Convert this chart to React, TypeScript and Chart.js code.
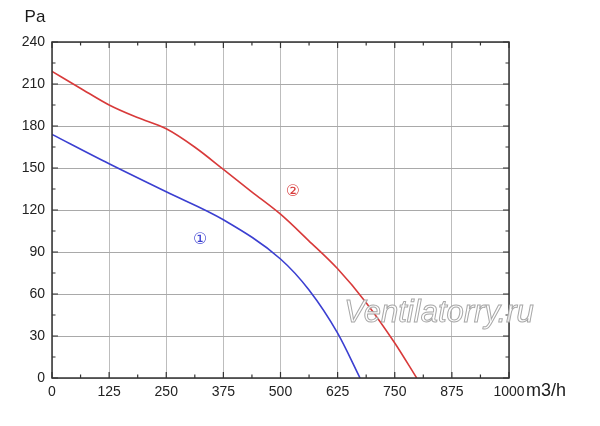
import React, { useEffect, useRef } from 'react';
import { Chart, registerables } from 'chart.js';

Chart.register(...registerables);

// curve 1 (blue)
const flow1 = [0, 125, 250, 375, 500, 562, 625, 674];
const pa1 = [174, 153, 133, 113, 85, 63, 32, 0];

// curve 2 (red)
const flow2 = [0, 62, 125, 187, 250, 312, 375, 437, 500, 562, 625, 687, 750, 798];
const pa2 = [219, 207, 195, 186, 178, 165, 149, 133, 117, 98, 78, 54, 25, 0];

const xTicks = [0, 125, 250, 375, 500, 625, 750, 875, 1000];
const yTicks = [0, 30, 60, 90, 120, 150, 180, 210, 240];

// circled curve numbers, in data coords
const curveLabels = [
   { text: '①', x: 324, y: 99, color: '#3b3fd1' },
   { text: '②', x: 527, y: 133, color: '#d83a3a' },
];

const FONT = '"Liberation Sans", Arial, sans-serif';

const framePlugin = {
   id: 'frame',
   afterDatasetsDraw(chart: any) {
      const { ctx, chartArea: a, scales } = chart;
      const xs = scales.x;
      const ys = scales.y;
      ctx.save();
      ctx.strokeStyle = '#333';
      ctx.lineWidth = 1.5;
      ctx.strokeRect(a.left, a.top, a.right - a.left, a.bottom - a.top);

      // inward ticks on all sides, major + minor
      ctx.lineWidth = 1.2;
      ctx.beginPath();
      for (let i = 0; i < xTicks.length; i++) {
         const px = xs.getPixelForValue(xTicks[i]);
         ctx.moveTo(px, a.bottom);
         ctx.lineTo(px, a.bottom - 6);
         ctx.moveTo(px, a.top);
         ctx.lineTo(px, a.top + 6);
         if (i < xTicks.length - 1) {
            const mx = xs.getPixelForValue((xTicks[i] + xTicks[i + 1]) / 2);
            ctx.moveTo(mx, a.bottom);
            ctx.lineTo(mx, a.bottom - 3.5);
            ctx.moveTo(mx, a.top);
            ctx.lineTo(mx, a.top + 3.5);
         }
      }
      for (let i = 0; i < yTicks.length; i++) {
         const py = ys.getPixelForValue(yTicks[i]);
         ctx.moveTo(a.left, py);
         ctx.lineTo(a.left + 6, py);
         ctx.moveTo(a.right, py);
         ctx.lineTo(a.right - 6, py);
         if (i < yTicks.length - 1) {
            const my = ys.getPixelForValue((yTicks[i] + yTicks[i + 1]) / 2);
            ctx.moveTo(a.left, my);
            ctx.lineTo(a.left + 3.5, my);
            ctx.moveTo(a.right, my);
            ctx.lineTo(a.right - 3.5, my);
         }
      }
      ctx.stroke();

      // curve numbers
      ctx.font = '16px "DejaVu Sans", sans-serif';
      ctx.textAlign = 'center';
      ctx.textBaseline = 'middle';
      curveLabels.forEach((l) => {
         ctx.fillStyle = l.color;
         ctx.fillText(l.text, xs.getPixelForValue(l.x), ys.getPixelForValue(l.y));
      });

      // axis units
      ctx.fillStyle = '#1a1a1a';
      ctx.font = '17px ' + FONT;
      ctx.textAlign = 'center';
      ctx.fillText('Pa', a.left - 17, a.top - 25);
      ctx.textAlign = 'left';
      ctx.font = '18px ' + FONT;
      ctx.fillText('m3/h', a.right + 17, a.bottom + 13);

      // watermark
      ctx.font = 'italic 31px ' + FONT;
      ctx.textAlign = 'center';
      ctx.lineWidth = 1;
      ctx.fillStyle = 'rgba(255,255,255,0.85)';
      ctx.strokeStyle = '#a8a8a8';
      ctx.fillText('Ventilatorry.ru', 439, 313);
      ctx.strokeText('Ventilatorry.ru', 439, 313);
      ctx.restore();
   },
};

const toPoints = (xs: number[], ys: number[]) => xs.map((x, i) => ({ x, y: ys[i] }));

const App = () => {
   const canvasRef = useRef<HTMLCanvasElement | null>(null);

   useEffect(() => {
      if (!canvasRef.current) return;
      const chart = new Chart(canvasRef.current, {
         type: 'line',
         data: {
            datasets: [
               {
                  label: '1',
                  data: toPoints(flow1, pa1),
                  borderColor: '#3b3fd1',
                  borderWidth: 1.6,
                  pointRadius: 0,
                  cubicInterpolationMode: 'monotone',
                  fill: false,
               },
               {
                  label: '2',
                  data: toPoints(flow2, pa2),
                  borderColor: '#d83a3a',
                  borderWidth: 1.6,
                  pointRadius: 0,
                  cubicInterpolationMode: 'monotone',
                  fill: false,
               },
            ],
         },
         options: {
            animation: false,
            responsive: false,
            maintainAspectRatio: false,
            layout: { padding: { top: 42, right: 91, left: 0, bottom: 0 } },
            plugins: {
               legend: { display: false },
               tooltip: { enabled: false },
            },
            scales: {
               x: {
                  type: 'linear',
                  min: 0,
                  max: 1000,
                  afterBuildTicks: (s: any) => {
                     s.ticks = xTicks.map((v) => ({ value: v }));
                  },
                  afterFit: (s: any) => {
                     s.height = 48;
                  },
                  ticks: {
                     autoSkip: false,
                     maxRotation: 0,
                     padding: 6,
                     color: '#222',
                     font: { family: FONT, size: 14 },
                     callback: (v: any) => String(v),
                  },
                  grid: { color: '#bdbdbd', lineWidth: 1, drawTicks: false },
                  border: { display: false },
               },
               y: {
                  type: 'linear',
                  min: 0,
                  max: 240,
                  afterBuildTicks: (s: any) => {
                     s.ticks = yTicks.map((v) => ({ value: v }));
                  },
                  afterFit: (s: any) => {
                     s.width = 52;
                  },
                  ticks: {
                     padding: 7,
                     color: '#222',
                     font: { family: FONT, size: 14 },
                  },
                  grid: { color: '#a9a9a9', lineWidth: 1, drawTicks: false },
                  border: { display: false },
               },
            },
         },
         plugins: [framePlugin],
      } as any);
      return () => {
         chart.destroy();
      };
   }, []);

   return (
      <div style={{ position: 'absolute', left: 0, top: 0, width: 600, height: 426, background: '#fff' }}>
         <canvas ref={canvasRef} width='600' height='426' />
      </div>
   );
};

export default App;
